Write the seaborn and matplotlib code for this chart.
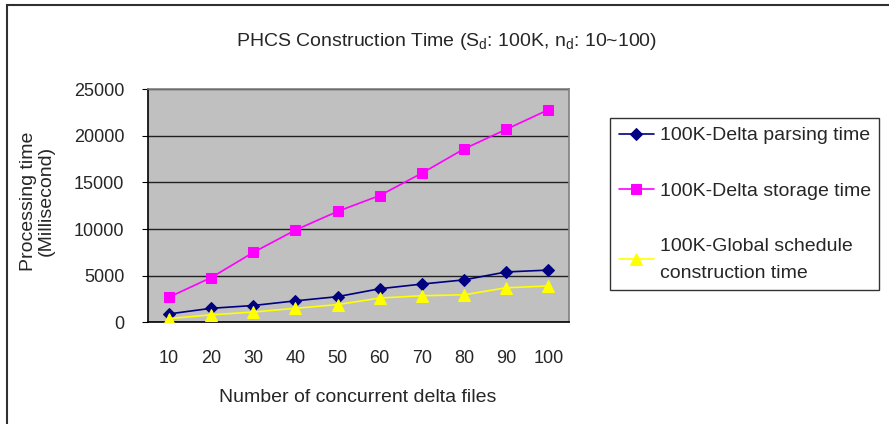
import pandas as pd
import matplotlib
matplotlib.use("Agg")
import matplotlib.pyplot as plt
import seaborn as sns

# Chart data
files = ["10", "20", "30", "40", "50", "60", "70", "80", "90", "100"]
parsing_time = [900, 1500, 1800, 2300, 2750, 3600, 4100, 4550, 5400, 5600]
storage_time = [2700, 4800, 7500, 9900, 11900, 13600, 16000, 18600, 20700, 22800]
schedule_time = [400, 800, 1100, 1500, 1900, 2600, 2850, 2950, 3700, 3900]
series_names = ["100K-Delta parsing time",
                "100K-Delta storage time",
                "100K-Global schedule\nconstruction time"]
y_ticks = [0, 5000, 10000, 15000, 20000, 25000]

df = pd.DataFrame({
    "files": files * 3,
    "time": parsing_time + storage_time + schedule_time,
    "series": [series_names[0]] * 10 + [series_names[1]] * 10 + [series_names[2]] * 10,
})

sns.set_style("white")
plt.rcParams["font.family"] = ["Liberation Sans", "DejaVu Sans"]
plt.rcParams["font.size"] = 13
plt.rcParams["mathtext.default"] = "regular"

fig = plt.figure(figsize=(8.89, 4.24), dpi=100)
ax = fig.add_axes([0.1665, 0.2399, 0.4739, 0.5495])
ax.set_facecolor("#C0C0C0")

palette = {series_names[0]: "#000080", series_names[1]: "#FF00FF", series_names[2]: "#FFFF00"}
markers = {series_names[0]: "D", series_names[1]: "s", series_names[2]: "^"}
sizes = {series_names[0]: 6, series_names[1]: 7, series_names[2]: 8}

for name in series_names:
    sub = df[df["series"] == name]
    sns.lineplot(data=sub, x="files", y="time", ax=ax, color=palette[name],
                 marker=markers[name], markersize=sizes[name],
                 markeredgecolor=palette[name], linewidth=1.2, label=name,
                 sort=False, zorder=3)

ax.set_xlim(-0.5, len(files) - 0.5)
ax.set_ylim(0, 25000)
ax.set_yticks(y_ticks)
ax.set_yticklabels([str(v) for v in y_ticks], fontsize=13)
ax.yaxis.grid(True, color="#202020", linewidth=1)
ax.set_axisbelow(True)

ax.set_xticks(range(len(files)))
ax.set_xticklabels(files, fontsize=13)
ax.set_xticks([i + 0.5 for i in range(len(files) - 1)], minor=True)
ax.tick_params(axis="x", which="major", length=0, pad=20)
ax.tick_params(axis="x", which="minor", direction="in", length=7, color="black")
ax.tick_params(axis="y", which="major", length=4, color="black", pad=13, direction="out", left=True)

for side in ["left", "bottom"]:
    ax.spines[side].set_color("black")
    ax.spines[side].set_linewidth(1.2)
for side in ["top", "right"]:
    ax.spines[side].set_color("#808080")
    ax.spines[side].set_linewidth(1.2)

ax.set_xlabel("")
ax.set_ylabel("")
fig.text(358 / 889, 1 - 397 / 424, "Number of concurrent delta files", ha="center", va="center", fontsize=14)
fig.text(37 / 889, 1 - 201 / 424, "Processing time\n(Millisecond)", ha="center", va="center",
         rotation=90, fontsize=14, linespacing=1.05)
fig.text(447 / 889, 1 - 42 / 424, "PHCS Construction Time (S$_d$: 100K, n$_d$: 10~100)",
         ha="center", va="center", fontsize=14)

leg = ax.legend(loc="upper left", bbox_to_anchor=(610 / 889, 1 - 118 / 424),
                bbox_transform=fig.transFigure, frameon=True, fancybox=False,
                fontsize=14, labelspacing=1.95, handlelength=1.8, handletextpad=0.3,
                borderpad=0.45, borderaxespad=0)
leg.get_texts()[2].set_linespacing(1.75)
leg.get_frame().set_edgecolor("black")
leg.get_frame().set_linewidth(1)

# outer chart border (top and left visible, rest runs off the picture)
fig.add_artist(plt.Rectangle((7 / 889, -0.1), 1.2, 1 - 5 / 424 + 0.1, transform=fig.transFigure,
                             fill=False, edgecolor="#303030", linewidth=1.5))

fig.savefig("out.png", dpi=100)
